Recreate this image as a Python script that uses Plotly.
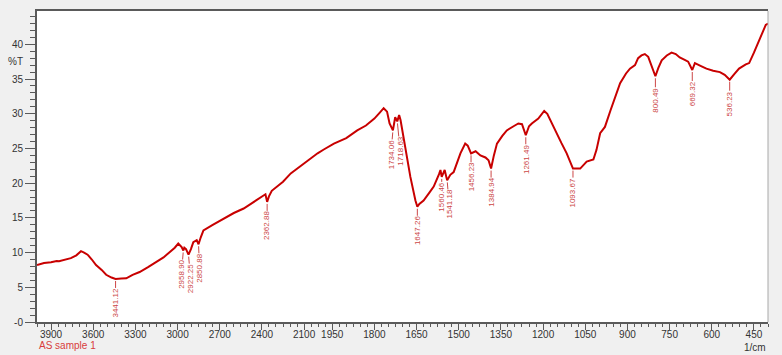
import plotly.graph_objects as go

# ---------------- data ----------------
wavenumber = [4000, 3950, 3900, 3860, 3843, 3800, 3759, 3720, 3700, 3687, 3665, 3640, 3610, 3580,
              3540, 3508, 3470, 3441.12, 3400, 3365, 3320, 3270, 3210, 3150, 3100, 3055, 3020,
              2995, 2980, 2971, 2958.90, 2952, 2940, 2922.25, 2905, 2888, 2864, 2850.88, 2835,
              2816, 2750, 2673, 2600, 2530, 2450, 2400, 2375, 2362.88, 2350, 2330, 2290, 2250,
              2195, 2150, 2100, 2050, 2004, 1980, 1944, 1900, 1861, 1830, 1800, 1780, 1767,
              1755, 1746, 1734.06, 1726, 1718.63, 1712, 1707, 1690, 1672, 1654, 1647.26, 1640,
              1625, 1605, 1589, 1570, 1565, 1560.46, 1550, 1541.18, 1530, 1518, 1505, 1494,
              1477, 1468, 1456.23, 1440, 1423, 1405, 1394, 1384.94, 1375, 1364, 1345, 1329,
              1305, 1288, 1275, 1261.49, 1250, 1240, 1217, 1196, 1185, 1170, 1151, 1135, 1116,
              1100, 1093.67, 1068, 1045, 1021, 1010, 997, 980, 960, 940, 926, 905, 891, 873,
              862, 850, 838, 826, 812, 800.49, 790, 778, 760, 743, 728, 714, 698, 684, 669.32,
              660, 640, 619, 595, 571, 554, 536.23, 520, 503, 479, 467, 450, 431, 418, 408, 400]
transmittance = [8.2, 8.5, 8.6, 8.8, 8.75, 9.0, 9.2, 9.6, 9.9, 10.2, 10.0, 9.7, 9.0, 8.2,
                 7.5, 6.8, 6.4, 6.2, 6.25, 6.3, 6.8, 7.2, 7.9, 8.65, 9.3, 10.1, 10.7,
                 11.3, 11.0, 10.8, 10.3, 10.7, 10.5, 9.7, 10.5, 11.5, 11.8, 11.2, 12.2,
                 13.2, 14.0, 14.9, 15.7, 16.35, 17.4, 18.1, 18.4, 17.3, 18.1, 18.9, 19.5, 20.2,
                 21.4, 22.1, 22.8, 23.6, 24.3, 24.85, 25.7, 26.5, 27.6, 28.3, 29.3, 30.2, 30.8,
                 30.3, 28.6, 27.6, 29.5, 28.9, 29.8, 29.1, 24.8, 20.9, 17.5, 16.6, 17.0,
                 17.5, 18.6, 19.5, 21.3, 21.9, 20.9, 21.9, 20.4, 21.2, 21.6, 23.0, 24.3,
                 25.7, 25.4, 24.3, 24.6, 24.0, 23.7, 23.3, 22.1, 24.0, 25.7, 26.8, 27.6,
                 28.2, 28.6, 28.5, 26.9, 28.2, 28.6, 29.3, 30.4, 30.0, 28.7, 27.2, 25.8, 24.3,
                 22.6, 22.1, 22.1, 23.1, 23.4, 24.8, 27.2, 28.1, 30.5, 33.0, 34.4, 35.8, 36.5, 37.0,
                 38.0, 38.4, 38.6, 38.2, 36.8, 35.4, 36.6, 37.7, 38.4, 38.8, 38.6, 38.1, 37.8, 37.5, 36.3,
                 37.3, 36.9, 36.5, 36.2, 36.0, 35.6, 34.9, 35.7, 36.5, 37.1, 37.3, 38.8, 40.6, 41.7, 42.8, 43.0]

peak_wn = [3441.12, 2958.90, 2922.25, 2850.88, 2362.88, 1734.06, 1718.63, 1647.26,
           1560.46, 1541.18, 1456.23, 1384.94, 1261.49, 1093.67, 800.49, 669.32, 536.23]
peak_t = [6.2, 10.3, 9.7, 11.2, 17.3, 27.6, 28.9, 16.6,
          20.9, 20.4, 24.3, 22.1, 26.9, 22.1, 35.4, 36.3, 34.9]
peak_labels = ["3441.12", "2958.90", "2922.25", "2850.88", "2362.88", "1734.06", "1718.63",
               "1647.26", "1560.46", "1541.18", "1456.23", "1384.94", "1261.49", "1093.67",
               "800.49", "669.32", "536.23"]

x_major_ticks = [3900, 3600, 3300, 3000, 2700, 2400, 2100, 1950, 1800, 1650, 1500, 1350,
                 1200, 1050, 900, 750, 600, 450]
y_major_ticks = [0, 5, 10, 15, 20, 25, 30, 35, 40]
y_tick_labels = ["-0", "5", "10", "15", "20", "25", "30", "35", "40"]

# ---------------- styling / layout ----------------
# pixel offsets of the peak labels (to avoid overlaps)
label_dx = {"2958.90": -2, "2922.25": 2, "2850.88": 1, "1734.06": -2, "1718.63": 3,
            "1541.18": 2}
label_dy = {"1718.63": 30, "1560.46": 20}


def xpos(wn):
    """Shimadzu-style broken wavenumber scale: 2x expansion below 2000 1/cm."""
    if wn >= 2000:
        return 4000 - wn
    return 2000 + 2 * (2000 - wn)


minor_vals = [w for w in range(4000, 1999, -50)] + [w for w in range(1975, 399, -25)]
minor_vals = [xpos(w) for w in minor_vals if w not in x_major_ticks]

RED = "#c80000"
LBL = "#cc4646"
AX = "#5a5a5a"
FONT = "Liberation Sans, Arial, sans-serif"

fig = go.Figure()
fig.add_trace(go.Scatter(x=[xpos(w) for w in wavenumber], y=transmittance, mode="lines",
                         line=dict(color=RED, width=2), hoverinfo="skip", showlegend=False))

for w, t, lab in zip(peak_wn, peak_t, peak_labels):
    fig.add_annotation(x=xpos(w), y=t, xref="x", yref="y", text=lab, textangle=-90,
                       showarrow=True, arrowhead=0, arrowwidth=1, arrowcolor=LBL,
                       ax=label_dx.get(lab, 0), ay=label_dy.get(lab, 24), standoff=2,
                       font=dict(family=FONT, size=8, color=LBL), borderpad=0)

fig.add_annotation(xref="paper", yref="y", x=-0.042, y=37.5, text="%T", showarrow=False,
                   font=dict(family=FONT, size=10, color="#333333"))
fig.add_annotation(xref="paper", yref="paper", x=0.0, y=-0.074, xanchor="left",
                   yanchor="middle", text="AS sample 1", showarrow=False,
                   font=dict(family=FONT, size=10, color="#d83c3c"))
fig.add_annotation(xref="paper", yref="paper", x=1.0, y=-0.082, xanchor="right",
                   yanchor="middle", text="1/cm", showarrow=False,
                   font=dict(family=FONT, size=10, color="#333333"))

# right border of plot area (light)
fig.add_shape(type="line", xref="paper", yref="paper", x0=1, x1=1, y0=0, y1=1,
              line=dict(color="#a8a8a8", width=1))

fig.update_xaxes(range=[0, 5200], tickmode="array", tickvals=[xpos(w) for w in x_major_ticks],
                 ticktext=[str(w) for w in x_major_ticks], ticks="outside", ticklen=6,
                 tickwidth=1, tickcolor=AX, showline=True, linecolor=AX, linewidth=2,
                 mirror=True, showgrid=False, zeroline=False, automargin=False,
                 ticklabelstandoff=-4,
                 tickfont=dict(family=FONT, size=10, color="#333333"),
                 minor=dict(tickmode="array", tickvals=minor_vals, ticks="outside", ticklen=3,
                            tickcolor=AX, tickwidth=1, showgrid=False))
fig.update_yaxes(range=[0, 44.8], tickmode="array", tickvals=y_major_ticks,
                 ticktext=y_tick_labels, ticks="outside", ticklen=10, tickwidth=1,
                 tickcolor=AX, showline=True, linecolor=AX, linewidth=2, showgrid=False,
                 zeroline=False, automargin=False,
                 tickfont=dict(family=FONT, size=10, color="#333333"),
                 minor=dict(dtick=1, ticks="outside", ticklen=5, tickcolor=AX, tickwidth=1,
                            showgrid=False))

fig.update_layout(width=782, height=355, autosize=False,
                  margin=dict(l=37, r=14, t=11, b=33),
                  paper_bgcolor="#f0f0f0", plot_bgcolor="#ffffff", showlegend=False)

fig.write_html("out.html", config={"displayModeBar": False, "staticPlot": True},
               post_script="document.body.style.margin='0';document.body.style.overflow='hidden';")
